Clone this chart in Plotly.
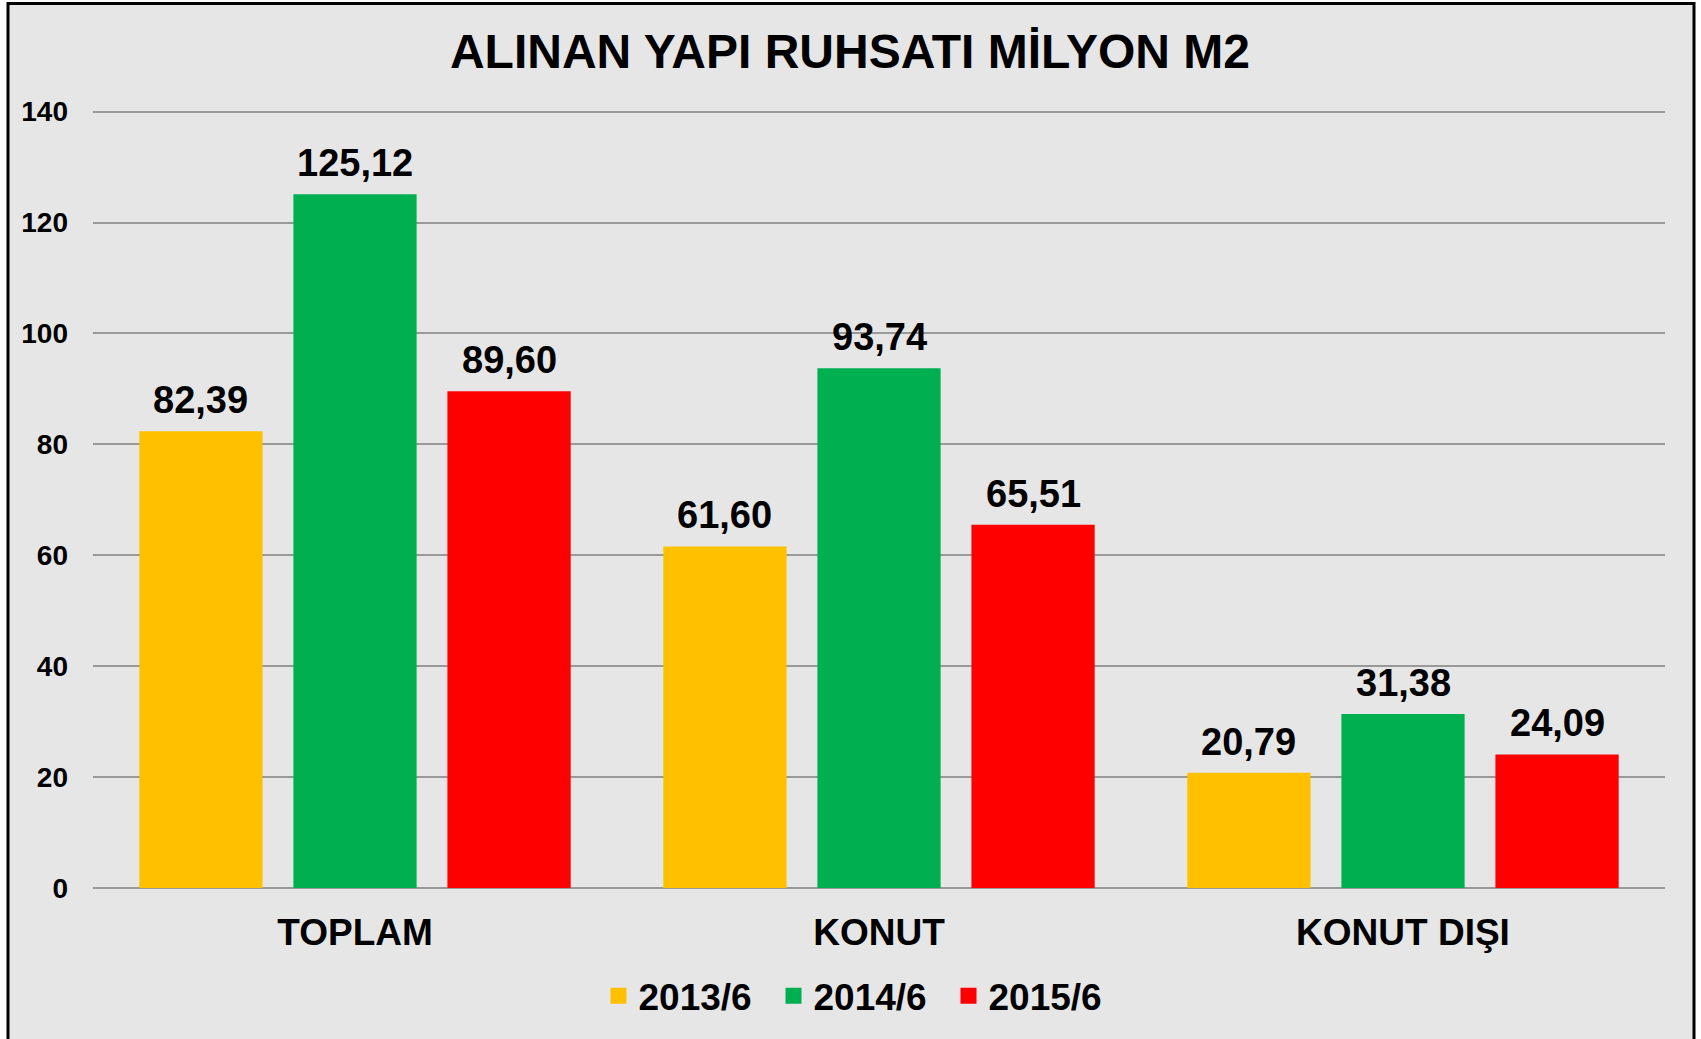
import plotly.graph_objects as go

categories = ["TOPLAM", "KONUT", "KONUT DIŞI"]
series_names = ["2013/6", "2014/6", "2015/6"]
values_2013 = [82.39, 61.60, 20.79]
values_2014 = [125.12, 93.74, 31.38]
values_2015 = [89.60, 65.51, 24.09]
colors = ["#FFC000", "#00B050", "#FF0000"]
y_ticks = [0, 20, 40, 60, 80, 100, 120, 140]

W, H = 1701, 1039
YMAX = 140.3
L, R, B = 93, 36, 145
T = 112 - (YMAX - 140) / 140 * (H - B - 112)
FONT = "Liberation Sans, Arial, sans-serif"
BARGAP, GROUPGAP = 0.118, 0.2

fig = go.Figure()
all_vals = [values_2013, values_2014, values_2015]
for name, vals, col in zip(series_names, all_vals, colors):
    fig.add_trace(go.Bar(
        x=categories, y=vals, name=name, marker=dict(color=col, line=dict(width=0)),
        showlegend=False, hoverinfo="x+y",
    ))
    fig.add_trace(go.Scatter(
        x=[None], y=[None], mode="markers", name=name,
        marker=dict(symbol="square", size=18, color=col), showlegend=True,
    ))

pw = W - L - R
ph = H - T - B
def px_x(x):
    return (x - L) / pw
def px_y(y):
    return (H - B - y) / ph

# value labels above each bar, offset within group by the bar slot width
slot = pw / len(categories) * (1 - BARGAP) / len(series_names)
for i, vals in enumerate(all_vals):
    for c, v in zip(categories, vals):
        fig.add_annotation(
            x=c, y=v, xref="x", yref="y", text=f"{v:.2f}".replace(".", ","),
            showarrow=False, yanchor="bottom", xanchor="center",
            xshift=(i - 1) * slot, yshift=8,
            font=dict(family=FONT, size=38, color="black", weight="bold"),
        )

fig.add_shape(type="rect", xref="paper", yref="paper",
              x0=px_x(8), x1=px_x(1694), y0=px_y(1060), y1=px_y(3),
              line=dict(color="black", width=3), fillcolor="#E6E6E6", layer="below")

fig.update_layout(
    width=W, height=H,
    margin=dict(l=L, r=R, t=T, b=B, pad=0),
    paper_bgcolor="white", plot_bgcolor="rgba(0,0,0,0)",
    separators=",.",
    barmode="group", bargap=BARGAP, bargroupgap=GROUPGAP,
    font=dict(family=FONT, color="black"),
    title=dict(text="ALINAN YAPI RUHSATI MİLYON M2", x=850 / W, xref="container", xanchor="center",
               y=1 - 51 / H, yref="container", yanchor="middle",
               font=dict(family=FONT, size=48, color="black", weight="bold")),
    legend=dict(orientation="h", x=(861 - L) / pw, xanchor="center", y=px_y(1003), yanchor="middle",
                font=dict(family=FONT, size=37, color="black", weight="bold"),
                entrywidth=130, entrywidthmode="pixels",
                bgcolor="rgba(0,0,0,0)", itemclick=False),
    xaxis=dict(showgrid=False, showline=False, ticks="", ticklabelstandoff=19,
               tickfont=dict(family=FONT, size=37, color="black", weight="bold")),
    yaxis=dict(range=[0, YMAX], tickvals=y_ticks, showgrid=True, gridcolor="#999999", gridwidth=2,
               zeroline=True, zerolinecolor="#999999", zerolinewidth=2, showline=False,
               ticks="", ticklabelstandoff=24,
               tickfont=dict(family=FONT, size=28, color="black", weight="bold")),
)

fig.write_html("out.html", config={"displayModeBar": False},
               post_script="document.body.style.margin='0';")
